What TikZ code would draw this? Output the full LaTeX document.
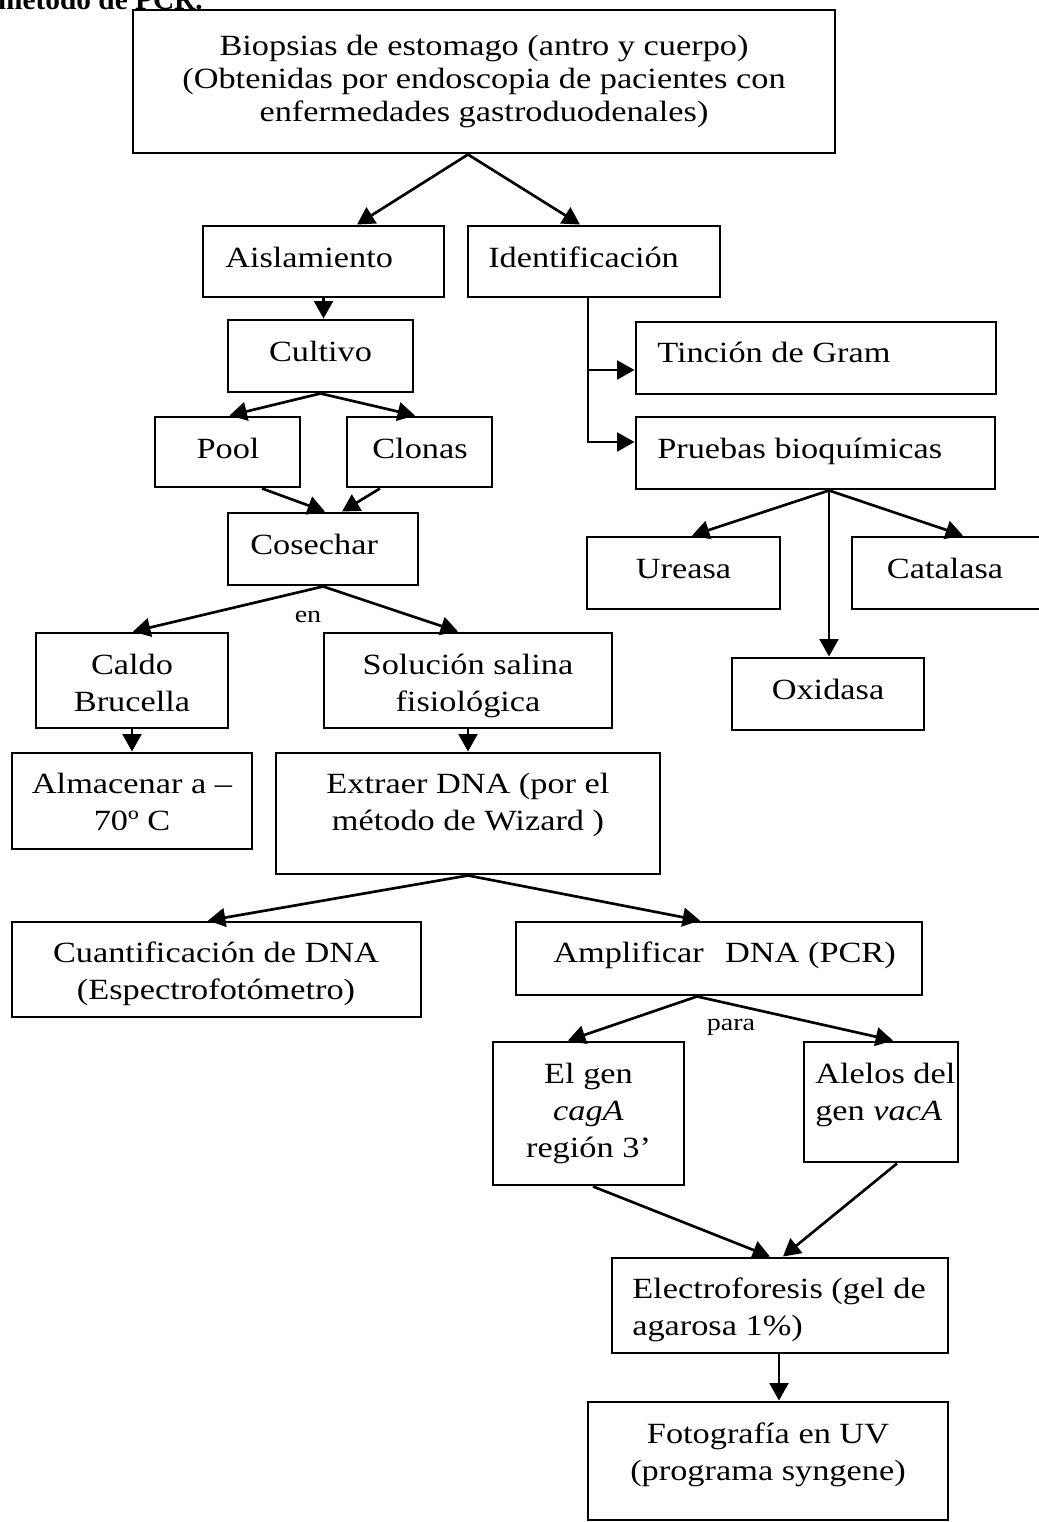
\documentclass[tikz,border=0pt]{standalone}
\usepackage{fontspec}
\setmainfont{Liberation Serif}[FakeStretch=1.17]
\newfontfamily\titlefont{Liberation Serif}
\usetikzlibrary{arrows.meta,calc,fit}
\begin{document}
\begin{tikzpicture}[x=0.75pt,y=-0.75pt,
  box/.style={draw, line width=2.2pt, inner sep=0pt},
  txt/.style={font=\fontsize{22}{27.75}\selectfont, inner sep=0pt, align=center, anchor=base},
  ltxt/.style={font=\fontsize{22}{27.75}\selectfont, inner sep=0pt, align=left, anchor=base west},
  small/.style={font=\fontsize{18}{21}\selectfont, inner sep=0pt, anchor=base},
  arr/.style={line width=2pt, -{Triangle[length=13pt,width=14pt]}}
]
\useasboundingbox (0,0) rectangle (1039,1522);
\clip (0,0) rectangle (1039,1522);

% title (cut at the top edge)
\node[font=\titlefont\bfseries\fontsize{22}{26}\selectfont, inner sep=0pt, anchor=base east] (title) at (203,9) {método de PCR.};

% boxes
\node[box, fit={(133,10) (835,153)}] (bio) {};
\node[box, fit={(203,226) (444,297)}] (aisl) {};
\node[box, fit={(468,226) (720,297)}] (ident) {};
\node[box, fit={(228,320) (413,392)}] (cult) {};
\node[box, fit={(636,322) (996,394)}] (tinc) {};
\node[box, fit={(636,417) (995,489)}] (prue) {};
\node[box, fit={(155,417) (300,487)}] (pool) {};
\node[box, fit={(347,417) (492,487)}] (clon) {};
\node[box, fit={(228,513) (418,585)}] (cose) {};
\node[box, fit={(587,537) (780,609)}] (urea) {};
\node[box, fit={(852,537) (1045,609)}] (cata) {};
\node[box, fit={(732,658) (924,730)}] (oxid) {};
\node[box, fit={(36,633) (228,728)}] (cald) {};
\node[box, fit={(324,633) (612,728)}] (solu) {};
\node[box, fit={(12,753) (252,849)}] (alma) {};
\node[box, fit={(276,753) (660,874)}] (extr) {};
\node[box, fit={(12,922) (421,1017)}] (cuan) {};
\node[box, fit={(516,922) (922,995)}] (ampl) {};
\node[box, fit={(493,1042) (684,1185)}] (cagA) {};
\node[box, fit={(804,1042) (958,1162)}] (vacA) {};
\node[box, fit={(612,1258) (948,1353)}] (elec) {};
\node[box, fit={(588,1402) (948,1520)}] (foto) {};

% texts (anchor = baseline of the last line)
\node[txt, font=\fontsize{22}{24.75}\selectfont] (t-bio) at (484,121) {Biopsias de estomago (antro y cuerpo)\\(Obtenidas por endoscopia de pacientes con\\enfermedades gastroduodenales)};
\node[ltxt] (t-aisl) at (225,267) {Aislamiento};
\node[ltxt] (t-ident) at (488,267) {Identificación};
\node[txt] (t-cult) at (320.5,361) {Cultivo};
\node[ltxt] (t-tinc) at (657,362) {Tinción de Gram};
\node[ltxt] (t-prue) at (657,458) {Pruebas bioquímicas};
\node[txt] (t-pool) at (228,458) {Pool};
\node[txt] (t-clon) at (420,458) {Clonas};
\node[ltxt] (t-cose) at (250,554) {Cosechar};
\node[txt] (t-urea) at (683.5,578) {Ureasa};
\node[txt] (t-cata) at (945,578) {Catalasa};
\node[txt] (t-oxid) at (828,699) {Oxidasa};
\node[txt] (t-cald) at (132,711) {Caldo\\Brucella};
\node[txt] (t-solu) at (468,711) {Solución salina\\fisiológica};
\node[txt] (t-alma) at (132,830) {Almacenar a –\\70º C};
\node[txt] (t-extr) at (468,830) {Extraer DNA (por el\\método de Wizard )};
\node[txt] (t-cuan) at (216,999) {Cuantificación de DNA\\(Espectrofotómetro)};
\node[ltxt] (t-ampl) at (553,962) {Amplificar\hspace{16pt}DNA (PCR)};
\node[txt] (t-cagA) at (588.5,1157) {El gen\\\textit{cagA}\\región 3’};
\node[ltxt] (t-vacA) at (815,1120) {Alelos del\\gen \textit{vacA}};
\node[ltxt] (t-elec) at (632,1335) {Electroforesis (gel de\\agarosa 1\%)};
\node[txt] (t-foto) at (768,1480) {Fotografía en UV\\(programa syngene)};
\node[small] (en) at (308,622) {en};
\node[small] (para) at (731,1030) {para};

% connectors
\coordinate (b0) at ($(bio.south)+(-16,0)$);
\draw[arr] (b0) -- ($(aisl.north)+(33.5,0)$);
\draw[arr] (b0) -- ($(ident.north)+(-14,0)$);
\draw[arr] (aisl.south) -- (aisl.south |- cult.north);
\coordinate (i0) at ($(ident.south)+(-6,0)$);
\draw[arr] (i0) |- ($(tinc.west)+(0,12)$);
\draw[arr] (i0) |- ($(prue.west)+(0,-11)$);
\draw[arr] (cult.south) -- ($(pool.north)+(2,0)$);
\draw[arr] (cult.south) -- ($(clon.north)+(-4.5,0)$);
\draw[arr] ($(pool.south)+(34.5,0)$) -- ($(cose.north)+(2,0)$);
\draw[arr] ($(clon.south)+(-39.5,0)$) -- ($(cose.north)+(19,0)$);
\draw[arr] (cose.south) -- ($(cald.north)+(1,0)$);
\draw[arr] (cose.south) -- ($(solu.north)+(-10,0)$);
\draw[arr] (cald.south) -- (cald.south |- alma.north);
\draw[arr] (solu.south) -- (solu.south |- extr.north);
\coordinate (p0) at ($(prue.south)+(13.5,0)$);
\draw[arr] (p0) -- ($(urea.north)+(8.5,0)$);
\draw[arr] (p0) -- ($(cata.north)+(14.5,0)$);
\draw[arr] (p0) -- (p0 |- oxid.north);
\draw[arr] (extr.south) -- ($(cuan.north)+(-8.5,0)$);
\draw[arr] (extr.south) -- ($(ampl.north)+(-19,0)$);
\coordinate (a0) at ($(ampl.south)+(-22,0)$);
\draw[arr] (a0) -- ($(cagA.north)+(-20.5,0)$);
\draw[arr] (a0) -- ($(vacA.north)+(12,0)$);
\draw[arr] ($(cagA.south)+(4.5,0)$) -- ($(elec.north)+(-10,0)$);
\draw[arr] ($(vacA.south)+(16,0)$) -- ($(elec.north)+(3,0)$);
\coordinate (e0) at ($(elec.south)+(-1,0)$);
\draw[arr] (e0) -- (e0 |- foto.north);
\end{tikzpicture}
\end{document}
